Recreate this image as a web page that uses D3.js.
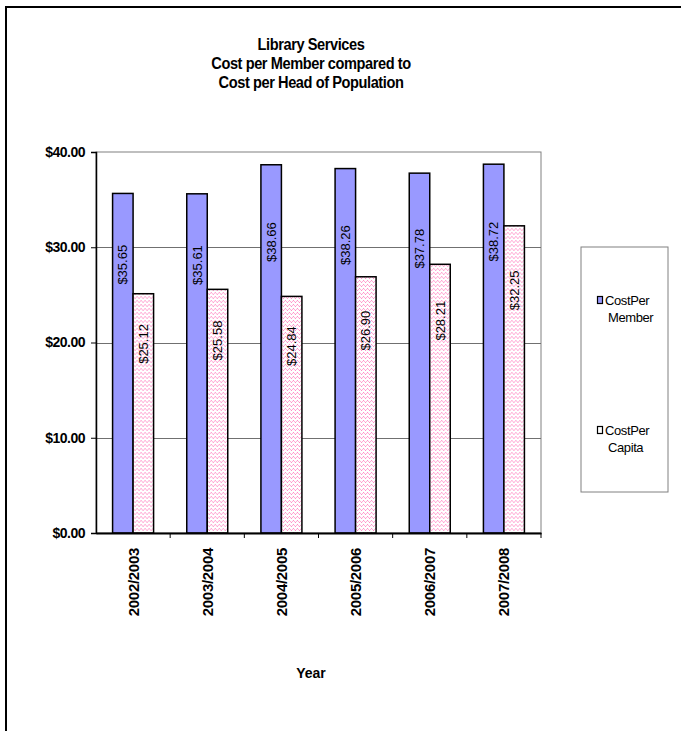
<!DOCTYPE html>
<html>
<head>
<meta charset="utf-8">
<script src="https://cdn.jsdelivr.net/npm/d3@7"></script>
<style>
  body { margin: 0; background: #fff; }
  svg text { font-family: "Liberation Sans", Arial, sans-serif; }
</style>
</head>
<body>
<div id="chart"></div>
<script>
// chart data
var years = ["2002/2003", "2003/2004", "2004/2005", "2005/2006", "2006/2007", "2007/2008"];
var seriesNames = ["CostPer Member", "CostPer Capita"];
var costPerMember = [35.65, 35.61, 38.66, 38.26, 37.78, 38.72];
var costPerCapita = [25.12, 25.58, 24.84, 26.90, 28.21, 32.25];
var yTicks = [0, 10, 20, 30, 40];
var titleLines = ["Library Services", "Cost per Member compared to", "Cost per Head of Population"];

var W = 681, H = 731;
var margin = { top: 152, left: 96 },
    width = 445,
    height = 381;

var svg = d3.select("#chart").append("svg")
    .attr("width", W)
    .attr("height", H);

// pink dotted fill
var defs = svg.append("defs");
var pat = defs.append("pattern")
    .attr("id", "pinkdots")
    .attr("patternUnits", "userSpaceOnUse")
    .attr("width", 4).attr("height", 4);
pat.append("rect").attr("width", 4).attr("height", 4).attr("fill", "#fff");
pat.append("rect").attr("x", 0).attr("y", 0).attr("width", 1).attr("height", 1).attr("fill", "#ff88c4");
pat.append("rect").attr("x", 1).attr("y", 1).attr("width", 1).attr("height", 1).attr("fill", "#ffaad4");
pat.append("rect").attr("x", 2).attr("y", 2).attr("width", 1).attr("height", 1).attr("fill", "#ff88c4");
pat.append("rect").attr("x", 3).attr("y", 1).attr("width", 1).attr("height", 1).attr("fill", "#ffaad4");

// outer frame (top and left edges)
svg.append("line").attr("x1", 5).attr("y1", 7).attr("x2", W).attr("y2", 7)
    .attr("stroke", "#000").attr("stroke-width", 2);
svg.append("line").attr("x1", 6).attr("y1", 6).attr("x2", 6).attr("y2", H)
    .attr("stroke", "#000").attr("stroke-width", 2);

// title (condensed look)
svg.append("g")
    .attr("transform", "translate(311,50) scale(0.86,1)")
    .append("text")
    .attr("text-anchor", "middle")
    .style("font-size", "17px").style("font-weight", "bold").style("letter-spacing", "-0.5px")
    .selectAll("tspan")
    .data(titleLines)
    .enter().append("tspan")
    .attr("x", 0)
    .attr("dy", function (d, i) { return i === 0 ? 0 : 19; })
    .text(function (d) { return d; });

var g = svg.append("g")
    .attr("transform", "translate(" + margin.left + "," + margin.top + ")");

var x0 = d3.scaleBand().domain(years).range([0, width]).padding(0);
var groupW = 41;
var x1 = d3.scaleBand().domain(seriesNames).range([0, groupW]);
var y = d3.scaleLinear().domain([0, 40]).range([height, 0]);

// plot area
g.append("rect").attr("width", width).attr("height", height)
    .attr("fill", "#fff").attr("stroke", "#808080").attr("stroke-width", 1);

// gridlines
g.selectAll(".grid")
    .data(yTicks.slice(1, -1))
    .enter().append("line")
    .attr("x1", 0).attr("x2", width)
    .attr("y1", function (d) { return Math.round(y(d)) + 0.5; })
    .attr("y2", function (d) { return Math.round(y(d)) + 0.5; })
    .attr("stroke", "#707070").attr("stroke-width", 1);

// bars
var rows = years.map(function (yr, i) {
    return { year: yr, values: [costPerMember[i], costPerCapita[i]] };
});
var fills = ["#9999ff", "url(#pinkdots)"];

var grp = g.selectAll(".grp")
    .data(rows)
    .enter().append("g")
    .attr("transform", function (d) {
        return "translate(" + (x0(d.year) + (x0.bandwidth() - groupW) / 2) + ",0)";
    });

var bar = grp.selectAll(".bar")
    .data(function (d) { return d.values.map(function (v, j) { return { s: seriesNames[j], v: v, j: j }; }); })
    .enter();

bar.append("rect")
    .attr("x", function (d) { return x1(d.s); })
    .attr("width", x1.bandwidth())
    .attr("y", function (d) { return y(d.v); })
    .attr("height", function (d) { return height - y(d.v); })
    .attr("fill", function (d) { return fills[d.j]; })
    .attr("stroke", "#000").attr("stroke-width", 1.5);

// value labels, rotated
bar.append("text")
    .attr("transform", function (d) {
        return "translate(" + (x1(d.s) + x1.bandwidth() / 2 + 4.5) + "," + y(d.v * 0.79) + ") rotate(-90)";
    })
    .attr("text-anchor", "middle")
    .style("font-size", "13px")
    .text(function (d) { return "$" + d.v.toFixed(2); });

// y axis
var yAxis = g.append("g")
    .call(d3.axisLeft(y).tickValues(yTicks).tickSize(5).tickFormat(function (d) { return "$" + d.toFixed(2); }));
yAxis.select(".domain").attr("stroke", "#000").attr("stroke-width", 1.5);
yAxis.selectAll("text")
    .attr("x", -11)
    .style("font-size", "14px").style("font-weight", "bold").style("letter-spacing", "-0.5px")
    .style("font-family", "'Liberation Sans', Arial, sans-serif")
    .attr("fill", "#000");

// x axis
var xAxis = g.append("g")
    .attr("transform", "translate(0," + height + ")")
    .call(d3.axisBottom(x0).tickSize(0).tickFormat(""));
xAxis.select(".domain").attr("stroke", "#000").attr("stroke-width", 2);
g.selectAll(".xtick")
    .data(d3.range(1, years.length + 1))
    .enter().append("line")
    .attr("x1", function (i) { return i * x0.step(); })
    .attr("x2", function (i) { return i * x0.step(); })
    .attr("y1", height).attr("y2", height + 5)
    .attr("stroke", "#000");
g.selectAll(".xlab")
    .data(years)
    .enter().append("text")
    .attr("transform", function (d) {
        return "translate(" + (x0(d) + x0.bandwidth() / 2 + 5.5) + "," + (height + 15) + ") rotate(-90)";
    })
    .attr("text-anchor", "end")
    .style("font-size", "15px").style("font-weight", "bold").style("letter-spacing", "-0.3px")
    .text(function (d) { return d; });

// x title
svg.append("text")
    .attr("x", 311).attr("y", 678)
    .attr("text-anchor", "middle")
    .style("font-size", "14px").style("font-weight", "bold")
    .text("Year");

// legend
var leg = svg.append("g").attr("transform", "translate(581,247)");
leg.append("rect").attr("width", 87).attr("height", 245)
    .attr("fill", "#fff").attr("stroke", "#808080");
var legItems = leg.selectAll(".li")
    .data(seriesNames)
    .enter().append("g")
    .attr("transform", function (d, i) { return "translate(0," + (i * 130) + ")"; });
legItems.append("rect")
    .attr("x", 16.5).attr("y", 49.5).attr("width", 5).attr("height", 7)
    .attr("fill", function (d, i) { return i === 0 ? "#9999ff" : "#fff"; })
    .attr("stroke", "#000").attr("stroke-width", 1.2);
legItems.append("text")
    .attr("x", 24).attr("y", 58)
    .style("font-size", "13px").style("letter-spacing", "-0.4px")
    .selectAll("tspan")
    .data(function (d) { return d.split(" "); })
    .enter().append("tspan")
    .attr("x", function (d, i) { return i === 0 ? 24 : 27; })
    .attr("dy", function (d, i) { return i === 0 ? 0 : 17; })
    .text(function (d) { return d; });
</script>
</body>
</html>
